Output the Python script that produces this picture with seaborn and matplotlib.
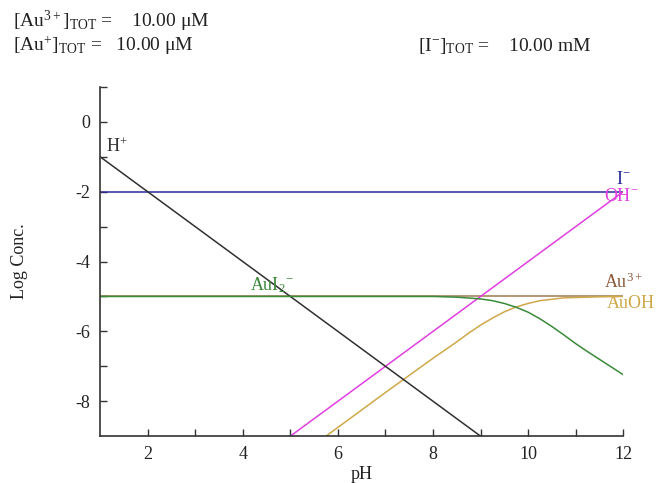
import matplotlib
matplotlib.use("Agg")
import matplotlib.pyplot as plt
import seaborn as sns
import pandas as pd

sns.set_theme(style="white")
plt.rcParams['font.family'] = ['Liberation Serif', 'DejaVu Serif']
plt.rcParams['mathtext.fontset'] = 'custom'
plt.rcParams['mathtext.rm'] = 'Liberation Serif'
plt.rcParams['mathtext.it'] = 'Liberation Serif:italic'

# --- data ---
ph_h = [1, 9]
log_h = [-1, -9]

ph_oh = [5, 12]
log_oh = [-9, -2]

ph_i = [1, 12]
log_i = [-2, -2]

ph_au3 = [1, 12]
log_au3 = [-5, -5]

ph_auoh = [5.75, 6, 7, 8, 8.5, 8.75, 9, 9.25, 9.5, 9.75, 10, 10.25, 10.5, 10.75, 11, 11.25, 11.5, 12]
log_auoh = [-9, -8.75, -7.75, -6.77, -6.3, -6.05, -5.82, -5.62, -5.44, -5.3, -5.2, -5.12,
            -5.08, -5.04, -5.03, -5.02, -5.01, -5.0]

ph_aui2 = [1, 8, 8.5, 9, 9.25, 9.5, 9.75, 10, 10.25, 10.5, 10.75, 11, 11.25, 11.5, 11.75, 12]
log_aui2 = [-5, -5, -5.02, -5.07, -5.12, -5.2, -5.31, -5.45, -5.64, -5.86, -6.1, -6.35,
            -6.58, -6.8, -7.02, -7.24]

x_ticks = [2, 4, 6, 8, 10, 12]
y_ticks = [0, -2, -4, -6, -8]

fig = plt.figure(figsize=(6.63, 4.83), dpi=100)
ax = fig.add_axes([0.151, 0.097, 0.789, 0.723])

series = [
    (ph_au3, log_au3, '#a07850'),
    (ph_auoh, log_auoh, '#cfa84a'),
    (ph_i, log_i, '#2a2a9a'),
    (ph_oh, log_oh, '#e040e0'),
    (ph_h, log_h, '#303030'),
    (ph_aui2, log_aui2, '#3a8a3a'),
]
for xs, ys, c in series:
    df = pd.DataFrame({'pH': xs, 'logc': ys})
    sns.lineplot(data=df, x='pH', y='logc', ax=ax, color=c, lw=1.1, sort=False)

ax.set_xlim(1, 12)
ax.set_ylim(-9, 1)
ax.set_xticks(x_ticks)
ax.set_xticks([3, 5, 7, 9, 11], minor=True)
ax.set_yticks(y_ticks)
ax.set_yticks([1, -1, -3, -5, -7], minor=True)
ax.set_yticklabels([str(v) for v in y_ticks])
ax.tick_params(axis='both', which='both', direction='in', length=5, width=1,
               color='#333333', labelsize=13, labelcolor='#222222',
               bottom=True, left=True)
ax.tick_params(axis='y', pad=7)
ax.tick_params(axis='x', pad=7)
for s in ['top', 'right']:
    ax.spines[s].set_visible(False)
for s in ['left', 'bottom']:
    ax.spines[s].set_color('#333333')
    ax.spines[s].set_linewidth(1.2)
ax.set_xlabel('pH', fontsize=13, color='#222222', labelpad=2)
ax.set_ylabel('Log Conc.', fontsize=13, color='#222222', labelpad=34)

# species labels
ax.text(1.12, -0.72, r'H$^{+}$', fontsize=13, color='#333333', va='center')
ax.text(11.85, -1.65, r'I$^{-}$', fontsize=13, color='#2a2a9a', va='center')
ax.text(11.6, -2.15, r'OH$^{-}$', fontsize=13, color='#e040e0', va='center')
ax.text(4.15, -4.68, r'AuI$_{2}$$^{-}$', fontsize=13, color='#3a8a3a', va='center')
ax.text(11.6, -4.6, r'Au$^{3+}$', fontsize=13, color='#8b5a3c', va='center')
ax.text(11.65, -5.2, 'AuOH', fontsize=13, color='#cfa84a', va='center')

# header text
fig.text(0.02, 0.955, r'[Au$^{3+}$]$_{\mathrm{TOT}}$ =    10.00 μM', fontsize=14, color='#222222', va='center')
fig.text(0.02, 0.905, r'[Au$^{+}$]$_{\mathrm{TOT}}$ =   10.00 μM', fontsize=14, color='#222222', va='center')
fig.text(0.63, 0.905, r'[I$^{-}$]$_{\mathrm{TOT}}$ =    10.00 mM', fontsize=14, color='#222222', va='center')

fig.savefig('out.png', dpi=100)
